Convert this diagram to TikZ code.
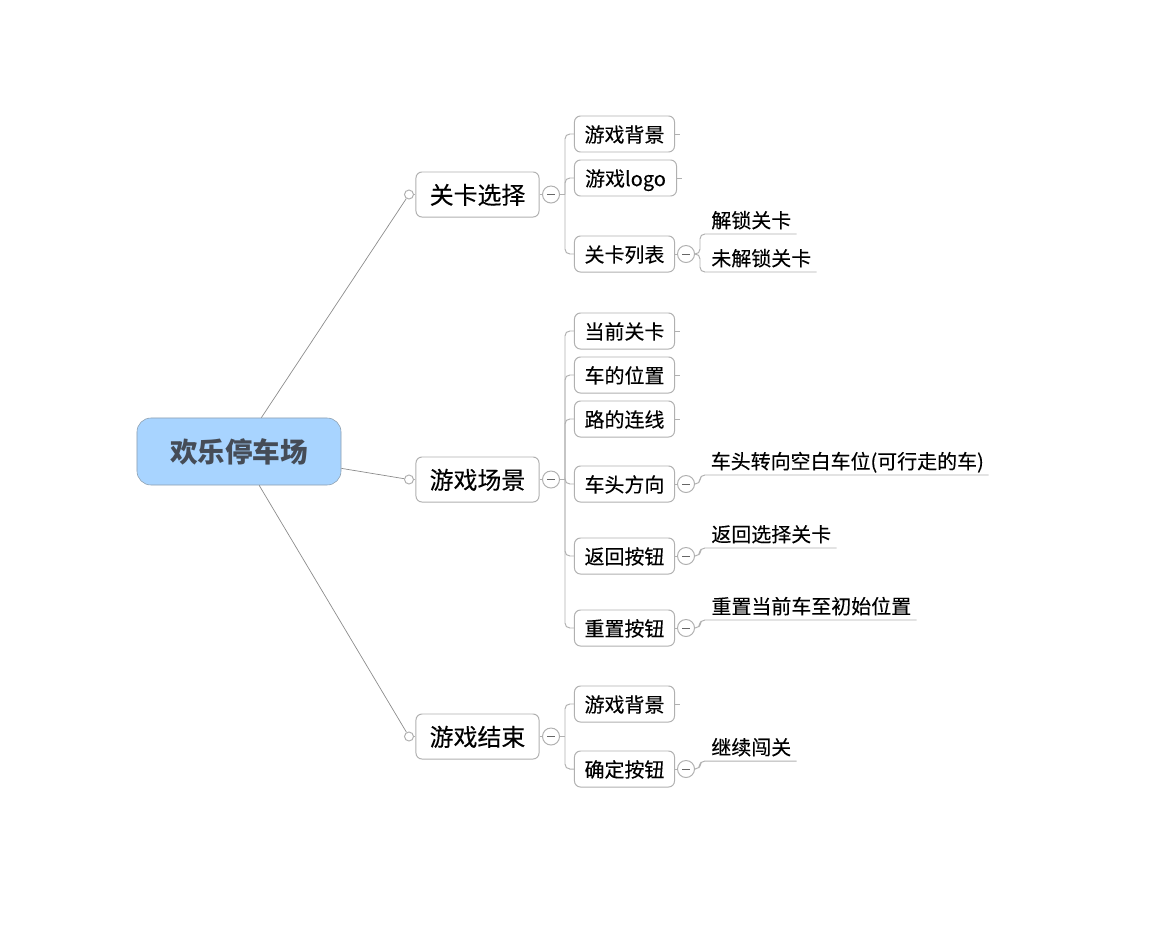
\documentclass[tikz,border=0pt]{standalone}
\usepackage{fontspec}
\setmainfont[FakeBold=0.2]{Noto Sans CJK SC}
\newfontfamily\rootfont{Noto Sans CJK SC}
\usetikzlibrary{positioning}
\definecolor{mline}{rgb}{0.69, 0.69, 0.69}
\definecolor{mroot}{rgb}{0.66, 0.83, 1}
\definecolor{mrootline}{rgb}{0.55, 0.62, 0.68}
\definecolor{mroottext}{rgb}{0.27, 0.30, 0.34}
\tikzset{
  rootbox/.style={draw=mrootline, fill=mroot, text=mroottext, rounded corners=0.35cm, minimum width=5.1cm, minimum height=1.675cm, inner sep=0pt, text height=15.6pt, text depth=0pt, font=\fontsize{19.6}{24}\rootfont\bfseries},
  topicbox/.style={draw=mline, line width=0.7pt, fill=white, rounded corners=0.15cm, minimum width=3.075cm, minimum height=1.125cm, inner sep=0pt, text height=13.4pt, text depth=0pt, font=\fontsize{17}{20}\selectfont},
  subbox/.style={draw=mline, line width=0.7pt, fill=white, rounded corners=0.15cm, minimum width=#1, minimum height=0.9cm, inner sep=0pt, text height=11.5pt, text depth=0pt, font=\fontsize{14.2}{17}\selectfont},
  leafbox/.style={anchor=south west, minimum width=#1, minimum height=0.7cm, inner sep=0pt, text height=11.5pt, text depth=0pt, font=\fontsize{14.2}{17}\selectfont, execute at begin node=\hspace*{0.15cm}},
  opendot/.style={circle, draw=mline, line width=0.7pt, fill=white, minimum size=0.225cm, inner sep=0pt},
  minusdot/.style={circle, draw=mline, line width=0.7pt, fill=white, minimum size=0.425cm, inner sep=0pt,
    path picture={\draw [black!60, line width=0.7pt] ([xshift=-0.09cm]path picture bounding box.center) -- ([xshift=0.09cm]path picture bounding box.center);}},
  branch/.style={draw=mline, line width=0.7pt, rounded corners=0.12cm},
  stem/.style={draw=gray!90, line width=0.5pt}
}
\begin{document}
\begin{tikzpicture}[x=0.025cm, y=-0.025cm]
      \useasboundingbox (0, 0) rectangle (1166, 928);

      \node [rootbox] (root) at (239, 451.5) {欢乐停车场};

      % topics, with their two dots
      \foreach \name/\y/\txt in {sel/194.5/关卡选择, scene/479.5/游戏场景, over/736.5/游戏结束} {
        \node [topicbox] (\name) at (477.5, \y) {\txt};
        \node [opendot] (\name dot) at (409, \y) {};
        \node [minusdot] (\name min) at (551, \y) {};
        \coordinate (\name fork) at (565, \y);
        \draw [stem] (root) -- (\name dot);
        \draw [branch] (\name dot) -- (\name);
        \draw [branch] (\name) -- (\name min);
        \draw [branch] (\name min) -- (\name fork);
      }

      % second level
      \foreach \name/\x/\y/\wide/\txt/\up in {
          bg/624.5/134/2.5cm/游戏背景/sel, logo/625.5/178/2.55cm/游戏logo/sel,
          lst/624.5/254/2.5cm/关卡列表/sel, cur/624.5/331/2.5cm/当前关卡/scene,
          pos/624.5/375/2.5cm/车的位置/scene, road/624.5/419/2.5cm/路的连线/scene,
          head/624.5/484/2.5cm/车头方向/scene, back/624.5/556/2.5cm/返回按钮/scene,
          reset/624.5/628/2.5cm/重置按钮/scene, bgb/624.5/704/2.5cm/游戏背景/over,
          ok/624.5/769/2.5cm/确定按钮/over} {
        \node [subbox=\wide] (\name) at (\x, \y) {\txt};
        \draw [branch] (\up fork) |- (\name);
      }

      \foreach \name in {bg, logo, cur, pos, road, bgb} {
        \draw [branch] (\name.east) -- +(5, 0);
      }

      % third level
      \foreach \name/\y in {lst/254, head/484, back/556, reset/628, ok/769} {
        \node [minusdot] (\name min) at (686, \y) {};
        \draw [branch] (\name) -- (\name min);
      }
      \foreach \name/\up/\y/\wide/\txt in {
          unlock/lst/234/2.4cm/解锁关卡, locked/lst/272/2.9cm/未解锁关卡,
          turn/head/475/7.2cm/车头转向空白车位(可行走的车), reselect/back/548/3.4cm/返回选择关卡,
          restart/reset/620/5.4cm/重置当前车至初始位置, next/ok/761/2.4cm/继续闯关} {
        \node [leafbox=\wide] (\name) at (700, \y) {\txt};
        \draw [branch] (\up min.east) -| (\name.south west) -- (\name.south east);
      }
    \end{tikzpicture}
\end{document}
